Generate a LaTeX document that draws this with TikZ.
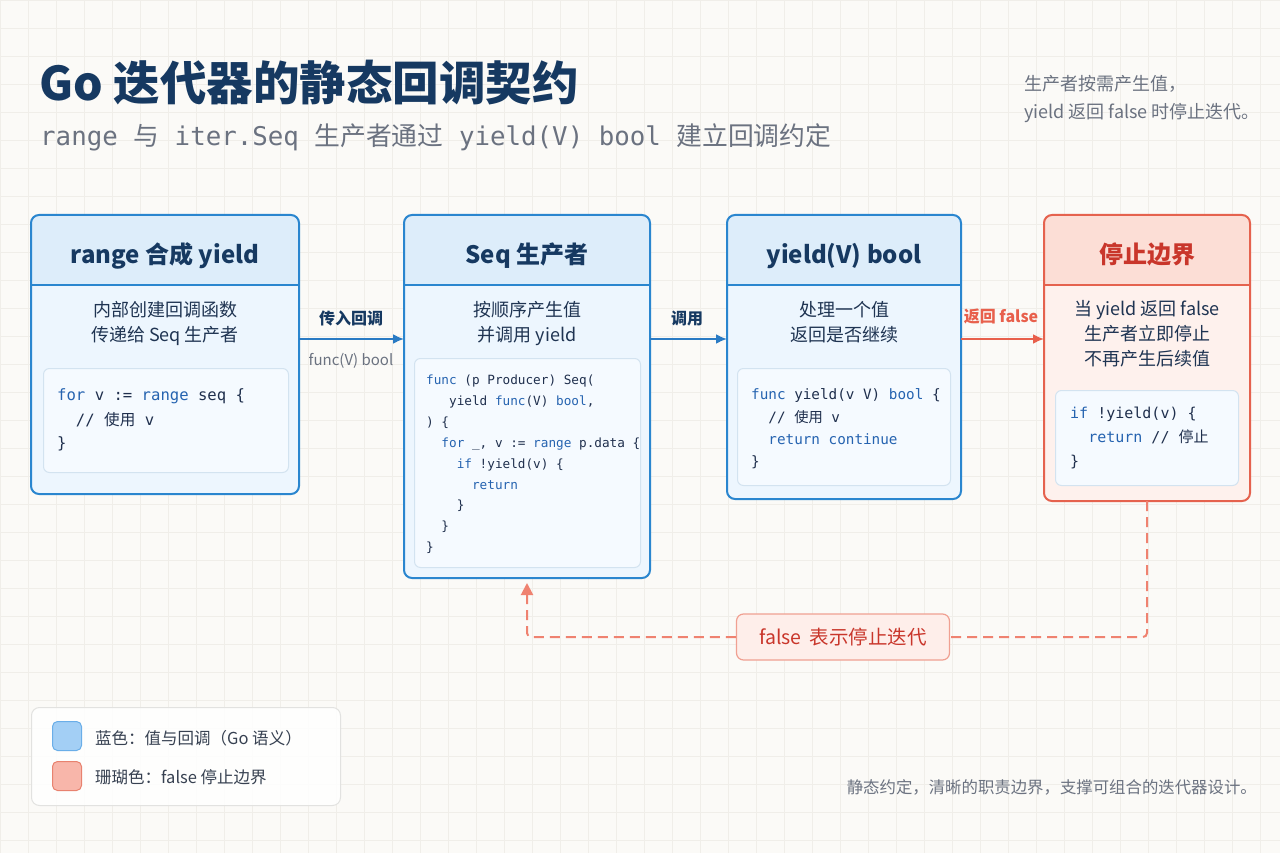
\documentclass[tikz,border=0pt]{standalone}
\usepackage{fontspec}
\setmainfont{Noto Sans CJK SC}
\setmonofont{DejaVu Sans Mono}
\newfontfamily\cjk{Noto Sans CJK SC}
\usetikzlibrary{arrows.meta,calc}
\definecolor{bgc}{HTML}{FBFAF7}
\definecolor{gridc}{HTML}{F0EEE9}
\definecolor{navy}{HTML}{163961}
\definecolor{txt}{HTML}{1F3452}
\definecolor{graytxt}{HTML}{6B7280}
\definecolor{blueborder}{HTML}{2A86CF}
\definecolor{bluefill}{HTML}{EDF6FE}
\definecolor{bluehdr}{HTML}{DDEDFA}
\definecolor{blueline}{HTML}{2A86CF}
\definecolor{redborder}{HTML}{E5624E}
\definecolor{redfill}{HTML}{FEF1ED}
\definecolor{redhdr}{HTML}{FCDED6}
\definecolor{redline}{HTML}{E5624E}
\definecolor{redtitle}{HTML}{C9362B}
\definecolor{codefill}{HTML}{F5FAFF}
\definecolor{codeborder}{HTML}{D3E3F0}
\definecolor{kwc}{HTML}{2563B0}
\definecolor{idc}{HTML}{1F2F4D}
\definecolor{arrowblue}{HTML}{2A7BC4}
\definecolor{arrowred}{HTML}{E8604C}
\definecolor{dashred}{HTML}{EF8270}
\definecolor{lblborder}{HTML}{F0A092}
\definecolor{lblfill}{HTML}{FEEEEA}
\definecolor{legblue}{HTML}{A3CFF5}
\definecolor{legblueb}{HTML}{6AAEE8}
\definecolor{legred}{HTML}{F8B6AA}
\definecolor{legredb}{HTML}{E8826F}
\definecolor{legtxt}{HTML}{374151}
\definecolor{legborder}{HTML}{E2E2E0}
\newcommand\setfs[1]{\fontsize{#1}{#1}\selectfont}
\newcommand\kw[1]{\textcolor{kwc}{#1}}
\newcommand\zh[1]{{\cjk #1}}
\newcommand\mkcard[6]{%
  \node[cardbody, fill=#6fill, minimum width=#4, minimum height=#5, anchor=north west] (#1) at (#2,#3) {};
  \fill[#6hdr] (#1.west |- hdrline) [rounded corners=8pt] -- (#1.north west) -- (#1.north east) [sharp corners] -- (#1.east |- hdrline) -- cycle;
  \draw[#6line, line width=1.3pt] (#1.west |- hdrline) -- (#1.east |- hdrline);
  \draw[#6border, line width=2pt, rounded corners=8pt] (#1.north west) rectangle (#1.south east);
}
\newcommand\cl[5]{\node[codeln, font=\ttfamily\setfs{#4}] (#1) at (#2,#3) {#5};}
\begin{document}
\begin{tikzpicture}[x=1pt,y=-1pt,
  cardbody/.style={inner sep=0pt, outer sep=0pt, rounded corners=8pt},
  codebox/.style={draw=codeborder, fill=codefill, line width=1pt, rounded corners=6pt, inner sep=0pt, anchor=north west},
  codeln/.style={anchor=base west, inner sep=0pt, text=idc},
  cardtitle/.style={anchor=base, inner sep=0pt, font=\bfseries\setfs{24}, text=navy},
  desc/.style={anchor=base, inner sep=0pt, font=\setfs{18}, text=txt},
  elabel/.style={anchor=base, inner sep=0pt, font=\bfseries\setfs{16}, text=navy},
  barrow/.style={draw=arrowblue, line width=2pt, -{Latex[length=11pt,width=10pt]}},
  rarrow/.style={draw=arrowred, line width=2pt, -{Latex[length=11pt,width=10pt]}},
  dashline/.style={draw=dashred, line width=2pt, dash pattern=on 10pt off 6pt, rounded corners=4pt},
  swatch/.style={minimum size=29pt, inner sep=0pt, rounded corners=5pt, line width=1pt},
  legtext/.style={anchor=base west, inner sep=0pt, font=\setfs{16.5}, text=legtxt}
]
\useasboundingbox (0,0) rectangle (1280,853);
\fill[bgc] (0,0) rectangle (1280,853);
\foreach \x in {0,28,...,1280} \draw[gridc, line width=0.6pt] (\x,0) -- (\x,853);
\foreach \y in {0,28,...,853} \draw[gridc, line width=0.6pt] (0,\y) -- (1280,\y);
\coordinate (hdrline) at (0,285);
\coordinate (arrowy) at (0,339);

% title
\node[anchor=base west, inner sep=0pt, font=\bfseries\setfs{46.5}, text=navy] (title) at (39,101) {Go 迭代器的静态回调契约};
\node[anchor=base west, inner sep=0pt, font=\setfs{25.8}, text=graytxt] (subtitle) at (40,146) {\ttfamily range \zh{与} iter.Seq \zh{生产者通过} yield(V) bool \zh{建立回调约定}};
\node[anchor=base west, inner sep=0pt, font=\setfs{18}, text=graytxt] (note1) at (1024,91) {生产者按需产生值，};
\node[anchor=base west, inner sep=0pt, font=\setfs{18}, text=graytxt] (note2) at (1024,119) {yield 返回 false 时停止迭代。};

% cards
\mkcard{A}{31}{215}{268}{279}{blue}
\mkcard{B}{404}{215}{246}{363}{blue}
\mkcard{C}{727}{215}{234}{284}{blue}
\mkcard{D}{1044}{215}{206}{286}{red}

\node[cardtitle] (Ah) at (165,263) {range 合成 yield};
\node[cardtitle] (Bh) at (527,263) {Seq 生产者};
\node[cardtitle] (Ch) at (844,263) {yield(V) bool};
\node[cardtitle, text=redtitle] (Dh) at (1147,263) {停止边界};

\node[desc] (Ad1) at (165,316) {内部创建回调函数};
\node[desc] (Ad2) at (165,341) {传递给 Seq 生产者};
\node[desc] (Bd1) at (527,316) {按顺序产生值};
\node[desc] (Bd2) at (527,341) {并调用 yield};
\node[desc] (Cd1) at (844,316) {处理一个值};
\node[desc] (Cd2) at (844,341) {返回是否继续};
\node[desc] (Dd1) at (1147,315) {当 yield 返回 false};
\node[desc] (Dd2) at (1147,340) {生产者立即停止};
\node[desc] (Dd3) at (1147,365) {不再产生后续值};

% code boxes
\node[codebox, minimum width=245pt, minimum height=104pt] (Acode) at (43,368) {};
\node[codebox, minimum width=226pt, minimum height=209pt] (Bcode) at (414,358) {};
\node[codebox, minimum width=213pt, minimum height=117pt] (Ccode) at (737,368) {};
\node[codebox, minimum width=183pt, minimum height=95pt] (Dcode) at (1055,390) {};

\cl{a1}{57}{400}{15.6}{\kw{for} v := \kw{range} seq \{}
\cl{a2}{57}{425}{15.6}{~~// \zh{使用} v}
\cl{a3}{57}{448}{15.6}{\}}

\cl{b1}{426}{384.5}{12.7}{\kw{func} (p Producer) Seq(}
\cl{b2}{426}{405.4}{12.7}{~~~yield \kw{func}(V) \kw{bool},}
\cl{b3}{426}{426.3}{12.7}{) \{}
\cl{b4}{426}{447.2}{12.7}{~~\kw{for} \_, v := \kw{range} p.data \{}
\cl{b5}{426}{468.1}{12.7}{~~~~\kw{if} !yield(v) \{}
\cl{b6}{426}{489}{12.7}{~~~~~~\kw{return}}
\cl{b7}{426}{509.9}{12.7}{~~~~\}}
\cl{b8}{426}{530.8}{12.7}{~~\}}
\cl{b9}{426}{551.7}{12.7}{\}}

\cl{c1}{751}{399}{14.3}{\kw{func} yield(v V) \kw{bool} \{}
\cl{c2}{751}{422}{14.3}{~~// \zh{使用} v}
\cl{c3}{751}{444}{14.3}{~~\kw{return continue}}
\cl{c4}{751}{466}{14.3}{\}}

\cl{d1}{1070}{418}{15}{\kw{if} !yield(v) \{}
\cl{d2}{1070}{442}{15}{~~\kw{return} // \zh{停止}}
\cl{d3}{1070}{466}{15}{\}}

% connectors
\draw[barrow] (A.east |- arrowy) -- (B.west |- arrowy);
\draw[barrow] (B.east |- arrowy) -- (C.west |- arrowy);
\draw[rarrow] (C.east |- arrowy) -- (D.west |- arrowy);
\node[elabel] (l1) at (351,324) {传入回调};
\node[anchor=base, inner sep=0pt, font=\setfs{15}, text=graytxt] (l1b) at (351,365) {func(V) bool};
\node[elabel] (l2) at (687,324) {调用};
\node[anchor=base, inner sep=0pt, font=\bfseries\setfs{16}, text=arrowred] (l3) at (1001,322) {返回 false};

% feedback
\node[draw=lblborder, fill=lblfill, line width=1.2pt, rounded corners=7pt, minimum width=213pt, minimum height=46pt, inner sep=0pt, font=\setfs{19.5}, text=redtitle] (fl) at (843,637) {false\hspace{0.4em}表示停止迭代};
\draw[dashline] (D.south) |- (fl.east);
\draw[dashline, -{Triangle[length=12pt,width=12pt]}] (fl.west) -| ([yshift=-5pt]B.south);

% legend
\node[draw=legborder, fill=white, fill opacity=0.85, draw opacity=1, line width=1pt, rounded corners=8pt, minimum width=309pt, minimum height=98pt, inner sep=0pt, anchor=north west] (leg) at (31,707) {};
\node[swatch, fill=legblue, draw=legblueb] (sw1) at (67,736) {};
\node[swatch, fill=legred, draw=legredb] (sw2) at (67,776) {};
\node[legtext] (lt1) at (95,744) {蓝色：值与回调（Go 语义）};
\node[legtext] (lt2) at (95,783) {珊瑚色：false 停止边界};

\node[anchor=base east, inner sep=0pt, font=\setfs{16.4}, text=graytxt] (foot) at (1257,793) {静态约定，清晰的职责边界，支撑可组合的迭代器设计。};
\end{tikzpicture}
\end{document}
